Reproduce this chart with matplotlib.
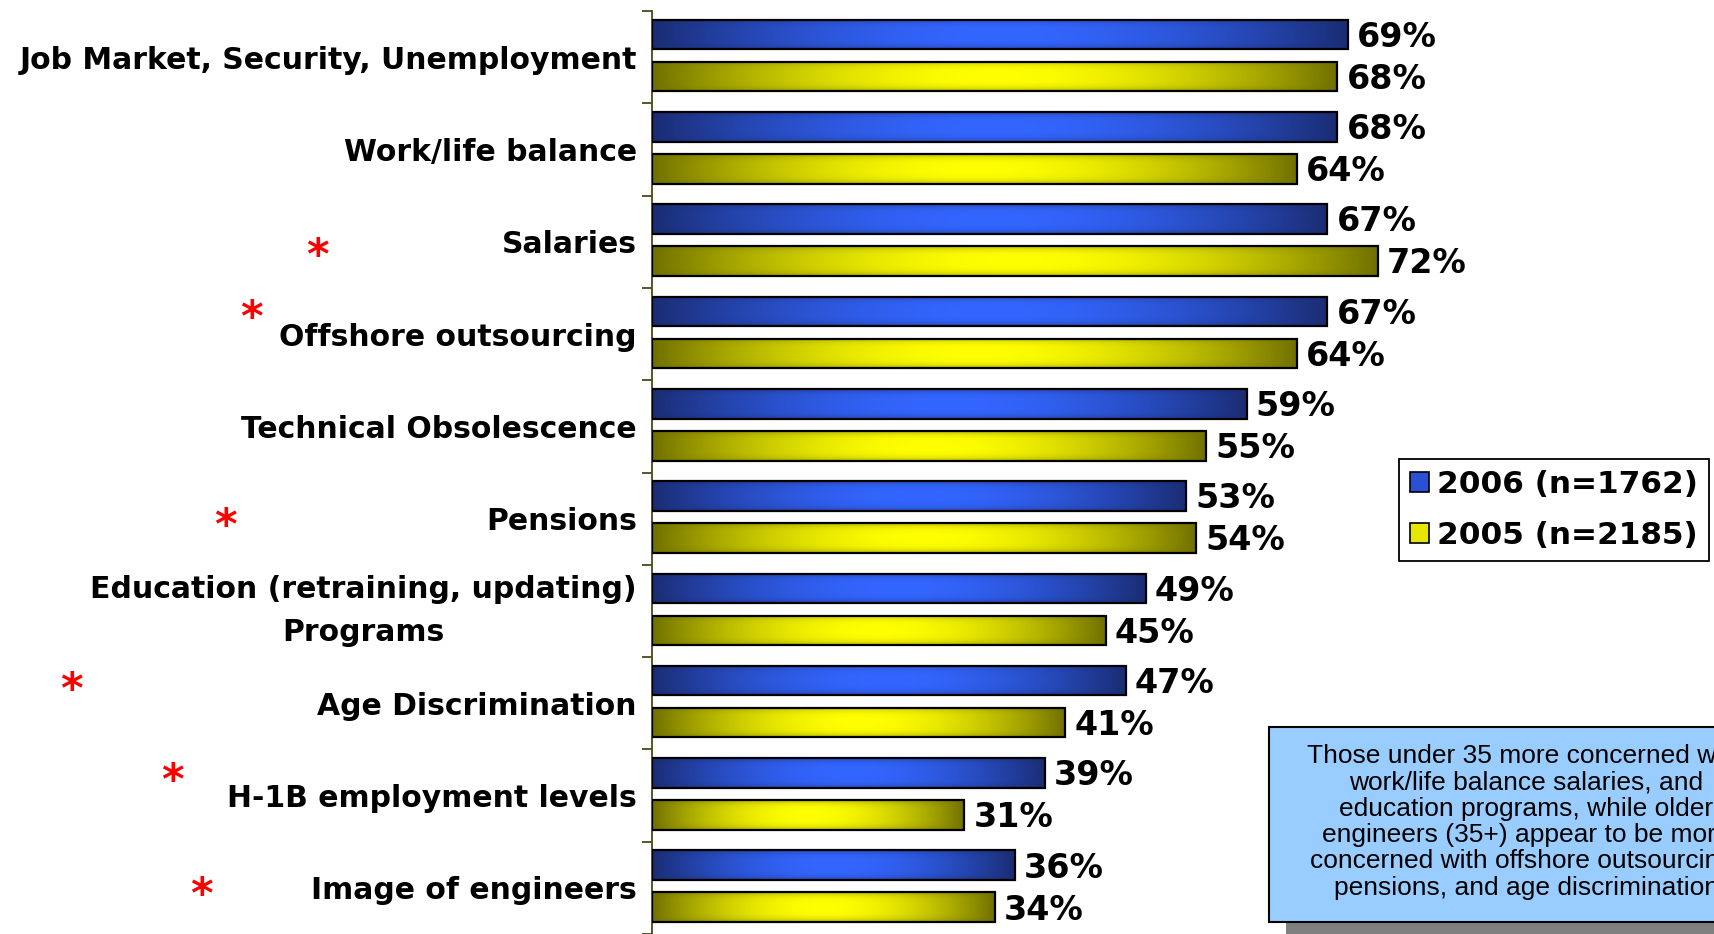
import numpy as np
import matplotlib
matplotlib.use("Agg")
import matplotlib.pyplot as plt
from matplotlib.patches import Rectangle, Patch
from matplotlib.colors import to_rgb

categories = ["Job Market, Security, Unemployment", "Work/life balance", "Salaries",
              "Offshore outsourcing", "Technical Obsolescence", "Pensions",
              "Education (retraining, updating)\nPrograms", "Age Discrimination",
              "H-1B employment levels", "Image of engineers"]
values_2006 = [69, 68, 67, 67, 59, 53, 49, 47, 39, 36]
values_2005 = [68, 64, 72, 64, 55, 54, 45, 41, 31, 34]
legend_labels = ["2006 (n=1762)", "2005 (n=2185)"]
note_text = ("Those under 35 more concerned with\nwork/life balance salaries, and\n"
             "education programs, while older\nengineers (35+) appear to be more\n"
             "concerned with offshore outsourcing,\npensions, and age discrimination")
# asterisk positions (pixel coords in the figure, from top-left)
asterisks = [(317, 257), (251, 319), (225, 527), (71, 691), (172, 782), (201, 896)]

W, H = 1714, 934
fig = plt.figure(figsize=(W / 100, H / 100), dpi=100)
ax = fig.add_axes([652 / W, 0, (W - 652) / W, (H - 11) / H])


def gradient(dark, bright, n=300, m=40):
    d = np.array(to_rgb(dark))
    b = np.array(to_rgb(bright))
    x = np.linspace(0, 1, n)
    y = np.linspace(0, 1, m)
    h = np.sin(np.pi * x) ** 0.9
    v = 1 - 0.45 * np.abs(2 * y - 1) ** 4
    t = (v[:, None] * h[None, :])[..., None]
    return d + (b - d) * t


blue_img = gradient("#1a2c72", "#3366ff")
yel_img = gradient("#6f6f00", "#ffff00")

y = np.arange(len(categories))
bh = 0.32
b1 = ax.barh(y - 0.245, values_2006, height=bh, facecolor="none", edgecolor="black", lw=1.6, zorder=3)
b2 = ax.barh(y + 0.21, values_2005, height=bh, facecolor="none", edgecolor="black", lw=1.6, zorder=3)

for bars, img in ((b1, blue_img), (b2, yel_img)):
    for r in bars:
        x0, y0 = r.get_x(), r.get_y()
        w, hgt = r.get_width(), r.get_height()
        ax.imshow(img, extent=[x0, x0 + w, y0 + hgt, y0], aspect="auto", zorder=2,
                  interpolation="bilinear")
        ax.text(x0 + w + 0.9, y0 + hgt / 2 + 0.03, f"{int(w)}%", ha="left", va="center",
                fontsize=24, fontweight="bold", color="black", zorder=4)
ax.set_xlim(0, (W - 652) / 10.08)
ax.set_ylim(9.5, -0.5)

for s in ("top", "right", "bottom"):
    ax.spines[s].set_visible(False)
ax.spines["left"].set_color("#4a4a1a")
ax.spines["left"].set_linewidth(1.3)
ax.set_xticks([])
ax.set_yticks(y)
ax.set_yticklabels(categories, fontsize=21.5, fontweight="bold", multialignment="center",
                   linespacing=1.62)
for lab in ax.get_yticklabels():
    if "\n" in lab.get_text():
        lab.set_verticalalignment("center")
ax.tick_params(axis="y", which="major", length=0, pad=11)
ax.set_yticks(np.arange(-0.5, len(categories)), minor=True)
ax.tick_params(axis="y", which="minor", length=7, width=1.3, color="#4a4a1a")

handles = [Patch(facecolor="#2a50d8", edgecolor="black", lw=1.2),
           Patch(facecolor="#e6e600", edgecolor="black", lw=1.2)]
leg = fig.legend(handles, legend_labels, loc="upper left",
                 bbox_to_anchor=(1399 / W, 1 - 459 / H),
                 prop={"weight": "bold", "size": 22.4}, frameon=True, fancybox=False,
                 edgecolor="black", framealpha=1, handlelength=0.62, handleheight=0.62,
                 handletextpad=0.25, borderpad=0.35, labelspacing=0.72, borderaxespad=0)
leg.get_frame().set_linewidth(1.3)

# note box with shadow
fig.patches.append(Rectangle((1286 / W, 0), 0.5, (H - 738) / H, transform=fig.transFigure,
                             facecolor="#808080", edgecolor="none", zorder=5))
fig.patches.append(Rectangle((1269 / W, 1 - 922 / H), 0.5, (922 - 727) / H,
                             transform=fig.transFigure, facecolor="#99ccff",
                             edgecolor="black", lw=1.5, zorder=6))
fig.text(1526 / W, 1 - 822 / H, note_text, ha="center", va="center", fontsize=19,
         family="Liberation Sans", linespacing=1.12, zorder=7, color="black")

for (px, py) in asterisks:
    fig.text(px / W, 1 - py / H, "*", color="#ff0000", fontsize=31, fontweight="bold",
             ha="center", va="center")

fig.savefig("out.png", dpi=100)
